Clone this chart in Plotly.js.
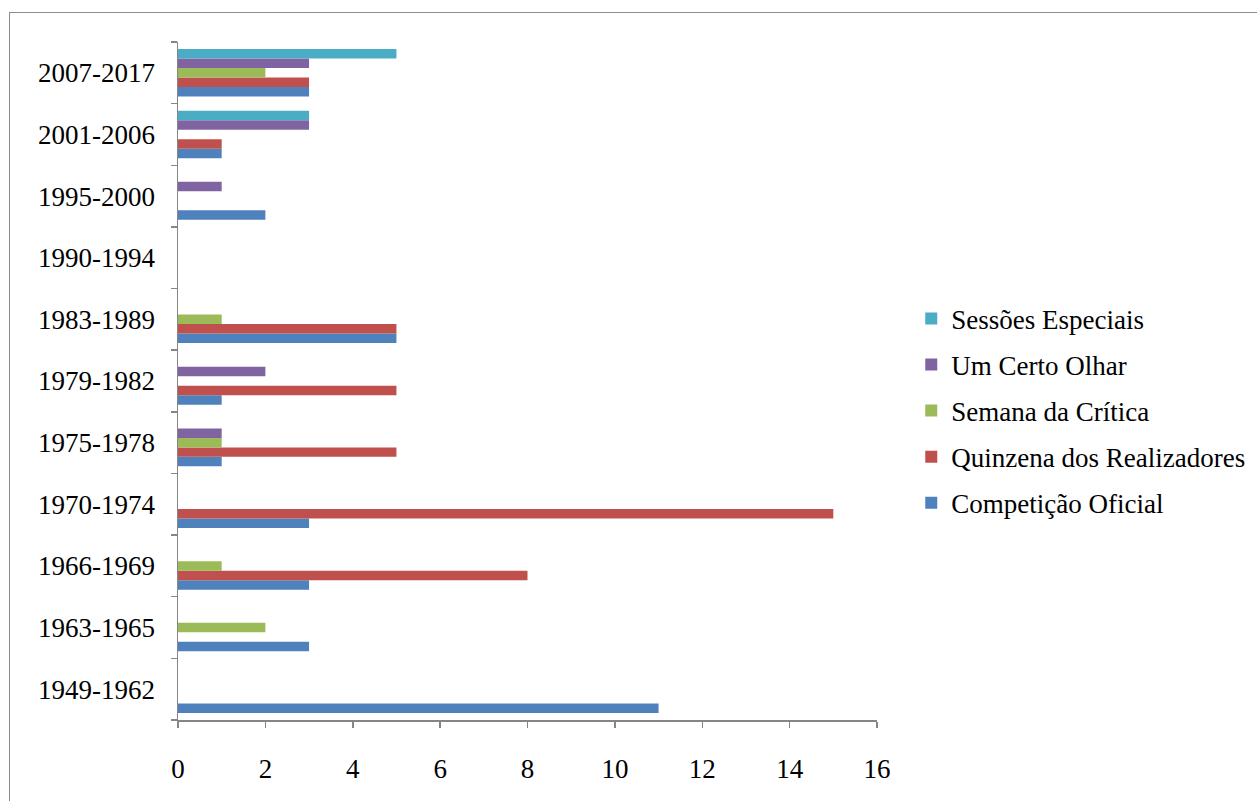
<!DOCTYPE html>
<html>
<head>
<meta charset="utf-8">
<script src="https://cdn.plot.ly/plotly-3.0.1.min.js"></script>
<style>
html,body{margin:0;padding:0;overflow:hidden;background:#fff;}
#chart{width:1257px;height:801px;position:absolute;left:0;top:0;}
#frame{position:absolute;left:9px;top:12px;width:1400px;height:1000px;border-left:1.5px solid #8c8c8c;border-top:1.5px solid #8c8c8c;pointer-events:none;}
#chart .legendtext{font-family:"Liberation Serif","Times New Roman",serif !important;}
</style>
</head>
<body>
<div id="chart"></div>
<div id="frame"></div>
<script>
const periods = ["1949-1962","1963-1965","1966-1969","1970-1974","1975-1978","1979-1982","1983-1989","1990-1994","1995-2000","2001-2006","2007-2017"];
const competicaoOficial = [11,3,3,3,1,1,5,0,2,1,3];
const quinzenaRealizadores = [0,0,8,15,5,5,5,0,0,1,3];
const semanaCritica = [0,2,1,0,1,0,1,0,0,0,2];
const umCertoOlhar = [0,0,0,0,1,2,0,0,1,3,3];
const sessoesEspeciais = [0,0,0,0,0,0,0,0,0,3,5];
const seriesNames = ["Competição Oficial","Quinzena dos Realizadores","Semana da Crítica","Um Certo Olhar","Sessões Especiais"];
const xTicks = [0,2,4,6,8,10,12,14,16];

const colors = ["#4F81BD","#C0504D","#9BBB59","#8064A2","#4BACC6"];
const values = [competicaoOficial, quinzenaRealizadores, semanaCritica, umCertoOlhar, sessoesEspeciais];

const FAM = "Liberation Serif";
function mkFont(){ return {family:FAM, size:27, color:'#000'}; }

const traces = values.map((v,i)=>({
  type:'bar',
  orientation:'h',
  y: periods,
  x: v,
  name: seriesNames[i],
  legendgroup: 'g'+i,
  legendrank: 10 - i,
  marker:{color:colors[i], line:{width:0}},
  hoverinfo:'x+name'
}));

const layout = {
  width:1257, height:801,
  margin:{l:178, r:380, t:42, b:81, autoexpand:false},
  paper_bgcolor:'#fff', plot_bgcolor:'#fff',
  barmode:'group',
  bargap:0.23,
  bargroupgap:0,
  font: mkFont(),
  showlegend:true,
  legend:{
    x:1.049, xanchor:'left', y:0.456, yanchor:'middle',
    traceorder:'grouped',
    tracegroupgap:8,
    font:mkFont(),
    itemwidth:30,
    bgcolor:'rgba(0,0,0,0)'
  },
  xaxis:{
    range:[0,16], tickvals:xTicks, ticktext:xTicks.map(String),
    showgrid:false, zeroline:false,
    showline:true, linecolor:'#868686', linewidth:1.5,
    ticks:'outside', ticklen:6, tickcolor:'#868686', tickwidth:1.5,
    ticklabelstandoff:18,
    tickfont:mkFont(), fixedrange:true
  },
  yaxis:{
    type:'category', categoryorder:'array', categoryarray:periods,
    range:[-0.5,10.5],
    showgrid:false, zeroline:false,
    showline:true, linecolor:'#868686', linewidth:1.5,
    ticks:'outside', ticklen:6, tickcolor:'#868686', tickwidth:1.5,
    tickson:'boundaries',
    ticklabelstandoff:16,
    tickfont:mkFont(), fixedrange:true
  }
};

Plotly.newPlot('chart', traces, layout, {displayModeBar:false, staticPlot:true});
</script>
</body>
</html>
